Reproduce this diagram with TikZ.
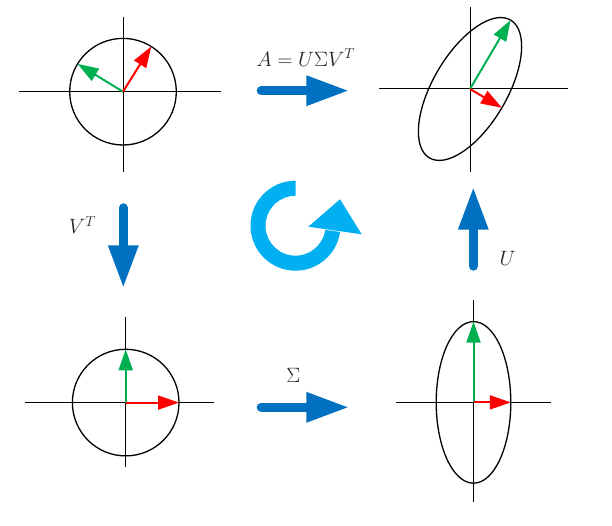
\documentclass[tikz,border=0pt]{standalone}
\usetikzlibrary{arrows.meta,calc}
\definecolor{vred}{HTML}{FF0000}
\definecolor{vgreen}{HTML}{00B050}
\definecolor{oblue}{HTML}{0070C0}
\definecolor{ocyan}{HTML}{00B0F0}
\definecolor{txt}{HTML}{262626}
\begin{document}
\begin{tikzpicture}[x=1pt,y=1pt,
  axis/.style={line width=1pt},
  curve/.style={line width=1.3pt},
  vec/.style={line width=2pt,-{Triangle[length=21pt,width=14pt]}},
  bigarrow/.style={oblue,line width=9pt,line cap=round,-{Triangle[length=43pt,width=28pt]}},
  lbl/.style={font=\fontsize{21}{24}\selectfont,inner sep=0pt,text=txt}]
\useasboundingbox (0,0) rectangle (612,526);

% ---------- top-left: unit circle, rotated basis ----------
\coordinate (O1) at (123,434.3);
\draw[axis] (19.3,434.3) -- (220.7,434.3);
\draw[axis] (123,508.7) -- (123,354.3);
\draw[curve] (O1) circle[radius=53.3];
\draw[vec,vgreen] (O1) -- ++(148.5:53.3);
\draw[vec,vred] (O1) -- ++(58:53.3);

% ---------- top-right: rotated ellipse ----------
\coordinate (O2) at (470,437);
\draw[axis] (379,437) -- (568,437);
\draw[axis] (470,518.7) -- (470,354.3);
\draw[curve,rotate around={59.5:(O2)}] (O2) ellipse[x radius=80,y radius=37];
\draw[vec,vgreen] (O2) -- ++(59.5:80);
\draw[vec,vred] (O2) -- ++(-30.5:37);

% ---------- bottom-left: unit circle, standard basis ----------
\coordinate (O3) at (125.7,123.4);
\draw[axis] (25,123.4) -- (214.3,123.4);
\draw[axis] (125.7,209.3) -- (125.7,58.7);
\draw[curve] (O3) circle[radius=53.3];
\draw[vec,vgreen] (O3) -- ++(90:53.3);
\draw[vec,vred] (O3) -- ++(0:53.3);

% ---------- bottom-right: axis-aligned ellipse ----------
\coordinate (O4) at (473.5,123.6);
\draw[axis] (396,123.6) -- (550.7,123.6);
\draw[axis] (473.5,226) -- (473.5,24.3);
\draw[curve] (O4) ellipse[x radius=37.3,y radius=80.8];
\draw[vec,vgreen] (O4) -- ++(90:80.8);
\draw[vec,vred] (O4) -- ++(0:37.3);

% ---------- blue transformation arrows ----------
\coordinate (tA) at (261.2,435.3); \coordinate (tB) at (349.3,435.3);
\coordinate (bA) at (261.2,118.7); \coordinate (bB) at (349.3,118.7);
\coordinate (lA) at (123.3,318.2); \coordinate (lB) at (123.3,237.7);
\coordinate (rA) at (473.3,259.8); \coordinate (rB) at (473.3,339.3);
\draw[bigarrow] (tA) -- (tB);
\draw[bigarrow] (bA) -- (bB);
\draw[bigarrow] (lA) -- (lB);
\draw[bigarrow] (rA) -- (rB);

% ---------- labels ----------
\node[lbl] (eq) at (305.8,468.5) {$A=U\Sigma V^T$};
\node[lbl] (sig) at (293.3,150.3) {$\Sigma$};
\node[lbl] (vt) at (82.5,301) {$V^T$};
\node[lbl] (u) at (507.5,268) {$U$};

% ---------- cyan circular arrow ----------
\coordinate (C) at (295.5,300.3);
\fill[ocyan] ($(C)+(90:45)$) arc[start angle=90,end angle=352,radius=45]
  -- ($(C)+(352:30)$) arc[start angle=352,end angle=90,radius=30] -- cycle;
\fill[ocyan] (308.3,299.3) -- (340,326.7) -- (361.7,291.7) -- cycle;
\end{tikzpicture}
\end{document}
